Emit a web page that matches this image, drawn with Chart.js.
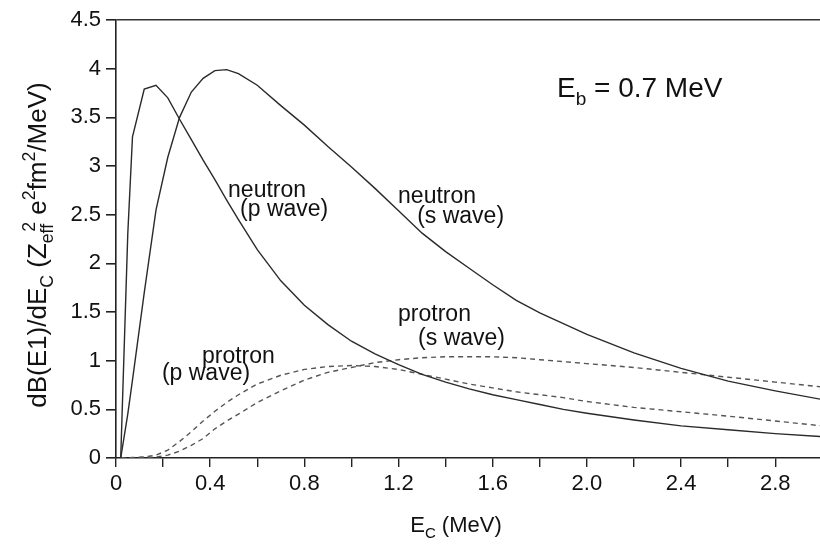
<!DOCTYPE html>
<html>
<head>
<meta charset="utf-8">
<script src="https://cdn.jsdelivr.net/npm/chart.js@4.4.1/dist/chart.umd.min.js"></script>
<style>
  html, body { margin: 0; padding: 0; background: #fff; overflow: hidden; }
  #wrap { width: 820px; height: 544px; position: relative; }
</style>
</head>
<body>
<div id="wrap"><canvas id="myChart"></canvas></div>
<script>
// E_C grid (MeV)
const energies = [0.02, 0.05, 0.07, 0.12, 0.17, 0.22, 0.27, 0.32, 0.37, 0.42, 0.47, 0.52, 0.6, 0.7, 0.8, 0.9,
    1.0, 1.1, 1.2, 1.3, 1.4, 1.5, 1.6, 1.7, 1.8, 1.9, 2.0, 2.2, 2.4, 2.6, 2.8, 3.0];

const neutronP = [0, 2.3, 3.3, 3.79, 3.83, 3.70, 3.48, 3.27, 3.06, 2.86, 2.65, 2.45, 2.14, 1.82, 1.57, 1.37,
    1.2, 1.07, 0.96, 0.86, 0.78, 0.71, 0.65, 0.6, 0.55, 0.5, 0.46, 0.39, 0.33, 0.29, 0.25, 0.22];

const neutronS = [0, 0.45, 0.8, 1.7, 2.55, 3.09, 3.5, 3.76, 3.9, 3.98, 3.99, 3.95, 3.83, 3.62, 3.42, 3.2,
    2.99, 2.77, 2.54, 2.31, 2.12, 1.95, 1.78, 1.62, 1.49, 1.38, 1.27, 1.08, 0.92, 0.79, 0.69, 0.6];

const protonP = [0, 0, 0.005, 0.01, 0.03, 0.08, 0.17, 0.27, 0.38, 0.48, 0.57, 0.65, 0.76, 0.85, 0.91, 0.94,
    0.95, 0.94, 0.91, 0.86, 0.81, 0.76, 0.72, 0.68, 0.65, 0.62, 0.58, 0.52, 0.475, 0.43, 0.38, 0.33];

const protonS = [0, 0, 0, 0.005, 0.01, 0.03, 0.07, 0.13, 0.2, 0.3, 0.38, 0.45, 0.57, 0.69, 0.8, 0.88,
    0.93, 0.98, 1.01, 1.03, 1.04, 1.04, 1.04, 1.03, 1.01, 0.99, 0.97, 0.93, 0.88, 0.83, 0.78, 0.73];

// x tick marks every 0.2, labelled every 0.4
const xTickValues = [0, 0.2, 0.4, 0.6, 0.8, 1.0, 1.2, 1.4, 1.6, 1.8, 2.0, 2.2, 2.4, 2.6, 2.8];
const xTickLabels = ['0', '', '0.4', '', '0.8', '', '1.2', '', '1.6', '', '2.0', '', '2.4', '', '2.8'];

// text notes placed in data coordinates (left edge, vertical middle)
const notes = [
    { text: 'neutron', x: 0.476, y: 2.75 },
    { text: '(p wave)', x: 0.527, y: 2.55 },
    { text: 'neutron', x: 1.198, y: 2.68 },
    { text: '(s wave)', x: 1.279, y: 2.48 },
    { text: 'protron', x: 1.198, y: 1.47 },
    { text: '(s wave)', x: 1.283, y: 1.23 },
    { text: 'protron', x: 0.365, y: 1.04 },
    { text: '(p wave)', x: 0.195, y: 0.87 }
];

const FONT = '"Liberation Sans", Arial, sans-serif';

function toPoints(vals) {
    return energies.map((e, i) => ({ x: e, y: vals[i] }));
}

// draws a run of text pieces with sub/superscripts; returns width
function drawRuns(ctx, runs, x, y, size, measureOnly) {
    let cx = x;
    runs.forEach(r => {
        const s = r.sub || r.sup ? size * 0.68 : size;
        ctx.font = s + 'px ' + FONT;
        const dy = r.sub ? size * 0.28 : (r.sup ? -size * 0.42 : 0);
        if (r.back) cx -= r.back * size;
        if (!measureOnly) ctx.fillText(r.t, cx, y + dy);
        cx += ctx.measureText(r.t).width;
    });
    return cx - x;
}

const textPlugin = {
    id: 'texts',
    afterDraw(chart) {
        const ctx = chart.ctx;
        const xs = chart.scales.x, ys = chart.scales.y;
        ctx.save();
        ctx.fillStyle = '#111';
        ctx.textAlign = 'left';
        ctx.textBaseline = 'middle';
        ctx.font = '23px ' + FONT;
        notes.forEach(n => {
            ctx.fillText(n.text, xs.getPixelForValue(n.x), ys.getPixelForValue(n.y));
        });

        ctx.textBaseline = 'alphabetic';
        // E_b = 0.7 MeV
        const ebRuns = [{ t: 'E' }, { t: 'b', sub: true }, { t: ' = 0.7 MeV' }];
        drawRuns(ctx, ebRuns, xs.getPixelForValue(1.873), ys.getPixelForValue(3.81) + 10, 28);

        // x title
        const xRuns = [{ t: 'E' }, { t: 'C', sub: true }, { t: ' (MeV)' }];
        const xw = drawRuns(ctx, xRuns, 0, 0, 22, true);
        drawRuns(ctx, xRuns, 456 - xw / 2, 532, 22);

        // y title, rotated
        const yRuns = [{ t: 'dB(E1)/dE' }, { t: 'C', sub: true }, { t: ' (Z' }, { t: 'eff', sub: true },
            { t: '2', sup: true, back: 0.3 }, { t: ' e' }, { t: '2', sup: true }, { t: 'fm' }, { t: '2', sup: true },
            { t: '/MeV)' }];
        const yw = drawRuns(ctx, yRuns, 0, 0, 26, true);
        ctx.translate(46, 245);
        ctx.rotate(-Math.PI / 2);
        drawRuns(ctx, yRuns, -yw / 2, 0, 26);
        ctx.restore();
    }
};

const solid = { borderColor: '#2a2a2a', borderWidth: 1.4, pointRadius: 0, tension: 0, fill: false };
const dashed = { borderColor: '#555', borderWidth: 1.4, borderDash: [5, 4], pointRadius: 0, tension: 0, fill: false };

new Chart(document.getElementById('myChart'), {
    type: 'line',
    data: {
        datasets: [
            Object.assign({ label: 'neutron (p wave)', data: toPoints(neutronP) }, solid),
            Object.assign({ label: 'neutron (s wave)', data: toPoints(neutronS) }, solid),
            Object.assign({ label: 'protron (p wave)', data: toPoints(protonP) }, dashed),
            Object.assign({ label: 'protron (s wave)', data: toPoints(protonS) }, dashed)
        ]
    },
    options: {
        responsive: true,
        maintainAspectRatio: false,
        animation: false,
        layout: { padding: { top: 20, right: 0, left: 0, bottom: 0 } },
        plugins: {
            legend: { display: false },
            tooltip: { enabled: false }
        },
        scales: {
            x: {
                type: 'linear',
                min: 0,
                max: 2.99,
                afterFit: s => { s.height = 86; },
                afterBuildTicks: s => { s.ticks = xTickValues.map(v => ({ value: v })); },
                border: { color: '#222', width: 1.6 },
                grid: { drawOnChartArea: false, tickLength: 9, tickColor: '#222', lineWidth: 1.4 },
                ticks: {
                    autoSkip: false,
                    maxRotation: 0,
                    padding: 4,
                    color: '#111',
                    font: { family: FONT, size: 22 },
                    callback: (v, i) => xTickLabels[i]
                }
            },
            y: {
                min: 0,
                max: 4.5,
                afterFit: s => { s.width = 116; },
                border: { color: '#222', width: 1.6 },
                grid: {
                    tickLength: 10,
                    tickColor: '#222',
                    lineWidth: 1.6,
                    color: c => (c.tick && c.tick.value === 4.5) ? '#333' : 'rgba(0,0,0,0)'
                },
                ticks: {
                    stepSize: 0.5,
                    padding: 5,
                    color: '#111',
                    font: { family: FONT, size: 22 },
                    callback: v => String(v)
                }
            }
        }
    },
    plugins: [textPlugin]
});
</script>
</body>
</html>
